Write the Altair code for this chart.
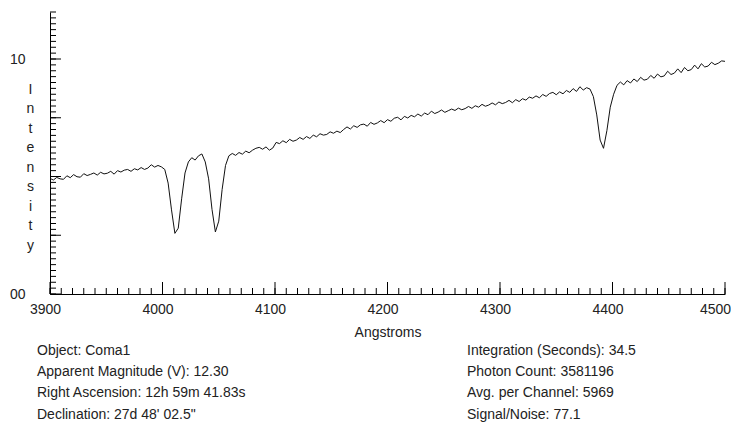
import altair as alt
import pandas as pd

# Spectrum sampled every 3 Angstroms from 3900 to 4500
wave_start, wave_step = 3900, 3
intensity = [
    4.92, 4.85, 4.96, 4.90, 4.88, 5.03, 4.95, 5.08, 4.99, 4.97,
    5.12, 5.04, 5.09, 5.15, 5.06, 5.18, 5.11, 5.14, 5.22, 5.10,
    5.25, 5.19, 5.27, 5.30, 5.22, 5.33, 5.28, 5.38, 5.30, 5.36,
    5.50, 5.40, 5.47, 5.41,
    5.30, 4.72, 3.58, 2.58, 2.80, 4.05, 5.15,
    5.62, 5.80, 5.70, 5.88, 5.96, 5.62,
    4.90, 3.60, 2.64, 3.10, 4.45, 5.47, 5.88,
    5.98, 5.90, 6.02, 5.95, 6.08, 6.01, 6.12, 6.20, 6.24, 6.16, 6.26, 6.12, 6.21,
    6.45, 6.40, 6.52, 6.44, 6.58, 6.50, 6.55, 6.66, 6.58, 6.70, 6.62, 6.76, 6.69,
    6.82, 6.76, 6.79, 6.90, 6.84, 6.93, 6.87, 7.00, 7.11, 7.02,
    7.16, 7.09, 7.20, 7.23, 7.14, 7.30, 7.22, 7.28, 7.38, 7.29,
    7.42, 7.35, 7.48, 7.52, 7.41, 7.56, 7.49, 7.60, 7.54, 7.66,
    7.57, 7.70, 7.63, 7.78, 7.68, 7.74, 7.83, 7.73, 7.80, 7.87,
    7.81, 7.91, 7.84, 7.89, 7.98, 7.90, 8.01, 7.95, 8.07, 7.99,
    8.04, 8.13, 8.05, 8.17, 8.10, 8.15, 8.24, 8.14, 8.27, 8.19,
    8.31, 8.25, 8.38, 8.33, 8.43, 8.35, 8.49, 8.41, 8.53, 8.58,
    8.48, 8.60, 8.52, 8.66, 8.58, 8.74, 8.62, 8.82, 8.68, 8.78, 8.72,
    8.40, 7.62, 6.55, 6.20, 6.95, 7.95, 8.50, 8.88,
    9.02, 8.90, 9.08, 8.98, 9.15, 9.04, 9.22, 9.10, 9.14, 9.30,
    9.18, 9.36, 9.24, 9.28, 9.48, 9.34, 9.40, 9.58, 9.42, 9.64,
    9.50, 9.55, 9.74, 9.58, 9.80, 9.66, 9.70, 9.86, 9.76, 9.82,
    9.92, 9.90,
]
wavelength = [wave_start + wave_step * i for i in range(len(intensity))]

x_major = [3900, 4000, 4100, 4200, 4300, 4400, 4500]
x_minor = list(range(3900, 4501, 10))
y_major = [0, 2.5, 5, 7.5, 10]
y_minor = [i * 0.25 for i in range(49)]
y_label_values = [0, 10]

left_lines = [
    "Object: Coma1",
    "Apparent Magnitude (V): 12.30",
    "Right Ascension:  12h 59m 41.83s",
    "Declination:   27d 48' 02.5\"",
]
right_lines = [
    "Integration (Seconds): 34.5",
    "Photon Count: 3581196",
    "Avg. per Channel: 5969",
    "Signal/Noise: 77.1",
]

FONT = "Liberation Sans"
TXT = "#222222"

spec = pd.DataFrame({"w": wavelength, "i": intensity})

xscale = alt.Scale(domain=[3900, 4500], nice=False, zero=False)
yscale = alt.Scale(domain=[0, 12], nice=False)

line = alt.Chart(spec).mark_line(color="#111111", strokeWidth=1).encode(
    x=alt.X("w:Q", scale=xscale, axis=alt.Axis(
        values=x_major, title="Angstroms", ticks=False, labelPadding=8,
        labelOffset={"condition": {"test": "datum.value >= 4500", "value": -10}, "value": -5},
        labelFlush=False, titlePadding=9, format="d")),
    y=alt.Y("i:Q", scale=yscale, axis=alt.Axis(
        values=y_label_values, ticks=False, labelPadding=25,
        labelExpr="datum.value == 0 ? '00' : '10'",
        title=list("Intensity"), titleAngle=0, titleAlign="center",
        titleBaseline="top", titleX=-20, titleY=70, titleLineHeight=19.5)),
)

def xticks(vals, size):
    return alt.Chart(pd.DataFrame({"w": vals})).mark_rule(
        color="black", strokeWidth=1, y2Offset=-size).encode(
        x=alt.X("w:Q", scale=xscale), y=alt.datum(0), y2=alt.datum(0))

def yticks(vals, size):
    return alt.Chart(pd.DataFrame({"v": vals})).mark_rule(
        color="black", strokeWidth=1, x2Offset=size).encode(
        y=alt.Y("v:Q", scale=yscale), x=alt.datum(3900), x2=alt.datum(3900))

info = alt.Data(values=[{"k": 0}])
left_text = alt.Chart(info).mark_text(
    align="left", baseline="top", font=FONT, fontSize=14, lineHeight=21.2,
    color=TXT).encode(text=alt.value(left_lines), x=alt.value(-13), y=alt.value(332))
right_text = alt.Chart(info).mark_text(
    align="left", baseline="top", font=FONT, fontSize=14, lineHeight=21.2,
    color=TXT).encode(text=alt.value(right_lines), x=alt.value(417), y=alt.value(332))

chart = alt.layer(
    line, xticks(x_minor, 6), xticks(x_major, 12), yticks(y_minor, 6), yticks(y_major, 11),
    left_text, right_text,
).properties(
    width=675, height=282,
    autosize=alt.AutoSizeParams(type="none"),
    padding={"left": 42, "top": 4, "right": 6, "bottom": 128},
    background="white",
).configure_view(stroke=None).configure_axis(
    grid=False, domainColor="black", domainWidth=1,
    labelFont=FONT, labelFontSize=14, labelColor=TXT,
    titleFont=FONT, titleFontSize=14, titleColor=TXT, titleFontWeight="normal",
)

chart.save("out.html", embed_options={"renderer": "svg", "actions": False})
